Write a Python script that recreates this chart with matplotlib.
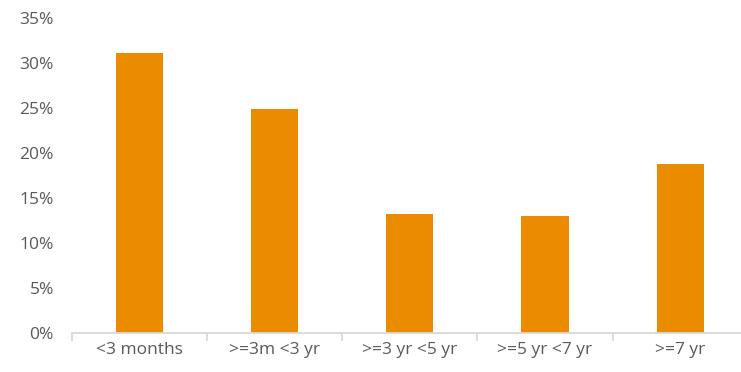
import matplotlib.pyplot as plt
from matplotlib.ticker import FuncFormatter, FixedLocator
import numpy as np

categories = ['<3 months', '>=3m <3 yr', '>=3 yr <5 yr', '>=5 yr <7 yr', '>=7 yr']
shares = [31.1, 24.9, 13.2, 13.0, 18.8]  # percent

plt.rcParams['font.family'] = ['Open Sans', 'DejaVu Sans']

fig = plt.figure(figsize=(7.41, 3.72), dpi=100)
ax = fig.add_axes([0.097, 0.106, 0.903, 0.846])

x = np.arange(len(categories))
ax.bar(x, shares, width=0.35, color='#EA8B00', zorder=2)

ax.set_ylim(0, 35)
ax.set_yticks(np.arange(0, 36, 5))
ax.yaxis.set_major_formatter(FuncFormatter(lambda v, p: f'{v:.0f}%'))
ax.set_xlim(-0.5, 4.45)
ax.set_xticks(x)
ax.set_xticklabels(categories)

# category boundary ticks on the x axis
ax.xaxis.set_minor_locator(FixedLocator(np.arange(-0.5, len(categories), 1.0)))
ax.tick_params(axis='x', which='major', length=0, pad=7, labelsize=12.5, labelcolor='#595959')
ax.tick_params(axis='x', which='minor', length=6, width=1.3, color='#D9D9D9')
ax.tick_params(axis='y', length=0, pad=13, labelsize=12.5, labelcolor='#595959')

for s in ['top', 'right', 'left']:
    ax.spines[s].set_visible(False)
ax.spines['bottom'].set_color('#D9D9D9')
ax.spines['bottom'].set_linewidth(1.3)

fig.savefig('out.png', dpi=100)
